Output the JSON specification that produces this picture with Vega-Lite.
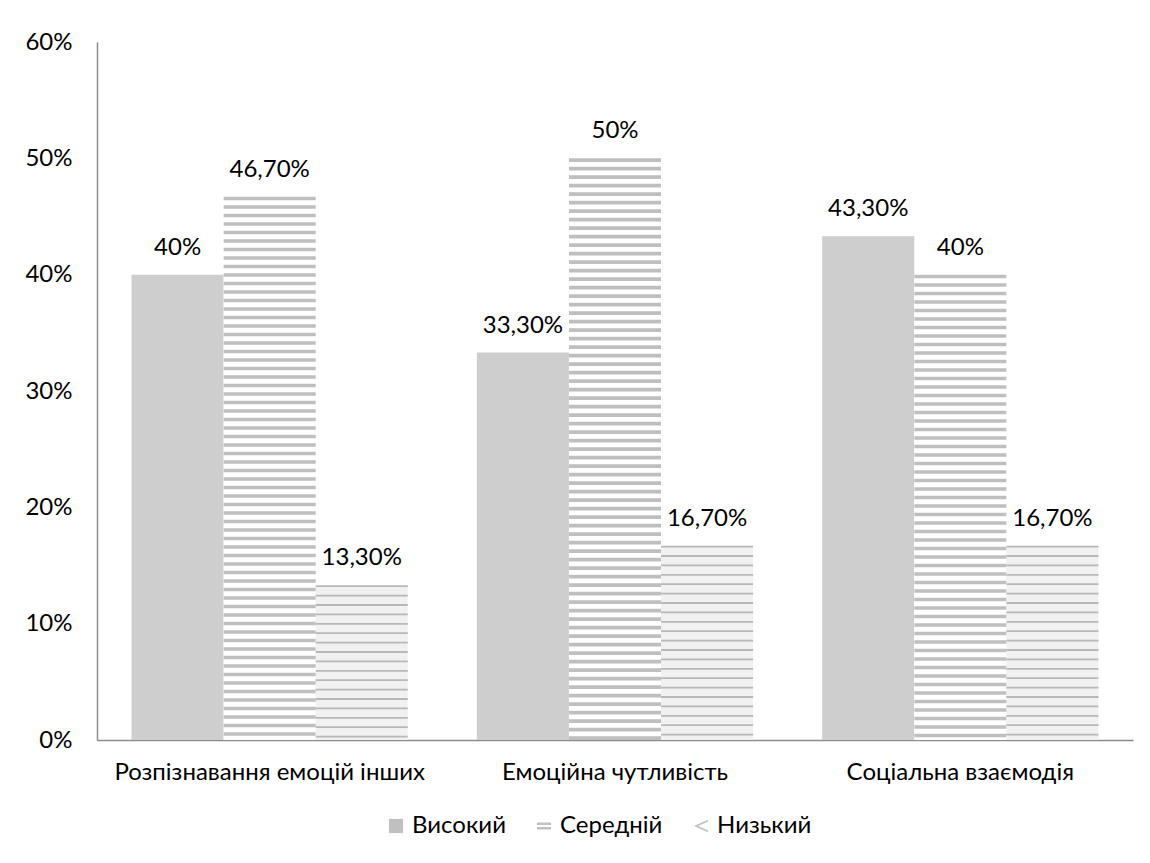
{
  "$schema": "https://vega.github.io/schema/vega-lite/v6.json",
  "autosize": "none",
  "width": 1036,
  "height": 698,
  "padding": {"left": 97, "top": 42, "right": 17, "bottom": 123},
  "background": "white",
  "config": {
    "view": {"stroke": null},
    "font": "Lato",
    "axis": {"labelFont": "Lato", "labelFontSize": 24, "labelColor": "#000000", "domainColor": "#8c8c8c", "domainWidth": 1.5, "ticks": false, "grid": false, "title": null, "labelLimit": 0}
  },
  "data": {
    "values": [
      {"cat": "Розпізнавання емоцій інших", "level": "Високий", "value": 0.40, "label": "40%"},
      {"cat": "Розпізнавання емоцій інших", "level": "Середній", "value": 0.467, "label": "46,70%"},
      {"cat": "Розпізнавання емоцій інших", "level": "Низький", "value": 0.133, "label": "13,30%"},
      {"cat": "Емоційна чутливість", "level": "Високий", "value": 0.333, "label": "33,30%"},
      {"cat": "Емоційна чутливість", "level": "Середній", "value": 0.50, "label": "50%"},
      {"cat": "Емоційна чутливість", "level": "Низький", "value": 0.167, "label": "16,70%"},
      {"cat": "Соціальна взаємодія", "level": "Високий", "value": 0.433, "label": "43,30%"},
      {"cat": "Соціальна взаємодія", "level": "Середній", "value": 0.40, "label": "40%"},
      {"cat": "Соціальна взаємодія", "level": "Низький", "value": 0.167, "label": "16,70%"}
    ]
  },
  "encoding": {
    "x": {"field": "cat", "type": "nominal", "sort": null,
      "scale": {"paddingInner": 0.2, "paddingOuter": 0.1},
      "axis": {"labelAngle": 0, "labelPadding": 20, "domain": true}},
    "xOffset": {"field": "level", "type": "nominal", "sort": ["Високий", "Середній", "Низький"], "scale": {"paddingInner": 0, "paddingOuter": 0}},
    "y": {"field": "value", "type": "quantitative",
      "scale": {"domain": [0, 0.6], "nice": false},
      "axis": {"values": [0, 0.1, 0.2, 0.3, 0.4, 0.5, 0.6], "format": ".0%", "labelPadding": 25}}
  },
  "layer": [
    {
      "mark": {"type": "bar"},
      "encoding": {
        "fill": {
          "condition": [
            {"test": "datum.level === 'Високий'", "value": "#cecece"},
            {"test": "datum.level === 'Низький'", "value": "#f1f1f1"}
          ],
          "value": "#ffffff"}
      }
    },
    {
      "transform": [{"filter": "datum.level === 'Середній'"}],
      "mark": {"type": "rule", "strokeWidth": 92, "color": "#bfbfbf", "strokeDash": [3.6, 4.9], "strokeCap": "butt"},
      "encoding": {"y2": {"datum": 0}}
    },
    {
      "transform": [{"filter": "datum.level === 'Низький'"}],
      "mark": {"type": "rule", "strokeWidth": 92, "color": "#b8b8b8", "strokeDash": [1.8, 7.6], "strokeCap": "butt"},
      "encoding": {"y2": {"datum": 0}}
    },
    {
      "transform": [{"filter": "false"}],
      "mark": {"type": "point", "filled": true, "color": "#c0c0c0", "opacity": 1},
      "encoding": {
        "shape": {"field": "level", "type": "nominal",
          "scale": {"domain": ["Високий", "Середній", "Низький"],
            "range": ["square", "M-1,-0.5H1V-0.15H-1Z M-1,0.15H1V0.5H-1Z", "M1,-0.9L-1,0L1,0.9L1,0.62L-0.4,0L1,-0.62Z"]},
          "legend": {
            "orient": "none", "direction": "horizontal", "legendX": 287, "legendY": 772,
            "title": null, "labelFont": "Lato", "labelFontSize": 24, "labelColor": "#000000",
            "symbolSize": 200, "columnPadding": 26, "labelOffset": 4,
            "symbolFillColor": "#c0c0c0", "symbolStrokeWidth": 0, "symbolOpacity": 1
          }}
      }
    },
    {
      "mark": {"type": "text", "baseline": "middle", "dy": -27, "fontSize": 24, "font": "Lato", "color": "#000000"},
      "encoding": {"text": {"field": "label"}}
    }
  ]
}
